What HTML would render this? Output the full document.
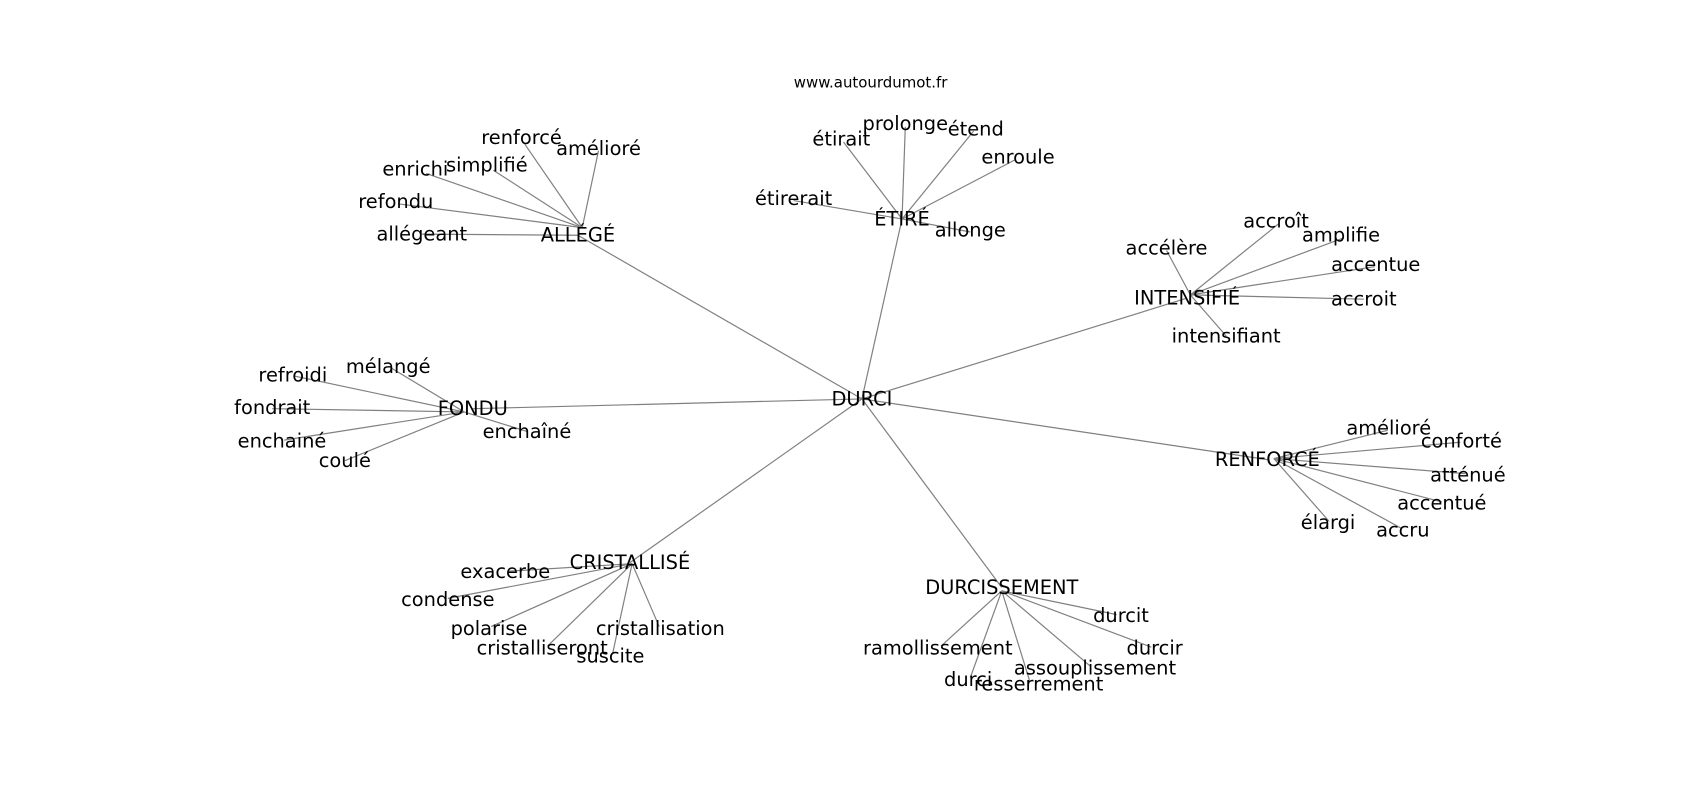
<!DOCTYPE html>
<html><head><meta charset="utf-8"><style>
html,body{margin:0;padding:0;background:#fff;width:1700px;height:800px;overflow:hidden}
svg{display:block}
text{font-family:"DejaVu Sans","Liberation Sans",sans-serif;font-size:17.9px;fill:#000;text-anchor:middle;dominant-baseline:central}
line{stroke:#808080;stroke-width:1.1}
</style></head><body>
<svg width="1700" height="800" viewBox="0 0 1568 738" xmlns="http://www.w3.org/2000/svg">
<g>
<line x1="795" y1="368" x2="533" y2="217"/>
<line x1="795" y1="368" x2="832" y2="202"/>
<line x1="795" y1="368" x2="1095" y2="275"/>
<line x1="795" y1="368" x2="436" y2="377"/>
<line x1="795" y1="368" x2="1169" y2="424"/>
<line x1="795" y1="368" x2="581" y2="519"/>
<line x1="795" y1="368" x2="924" y2="542"/>

<line x1="537" y1="210" x2="484" y2="133"/>
<line x1="537" y1="210" x2="552" y2="139"/>
<line x1="537" y1="210" x2="455" y2="157"/>
<line x1="537" y1="210" x2="393" y2="160"/>
<line x1="537" y1="210" x2="367" y2="188"/>
<line x1="533" y1="217" x2="389" y2="216"/>

<line x1="832" y1="202" x2="778" y2="131"/>
<line x1="832" y1="202" x2="835" y2="117"/>
<line x1="832" y1="202" x2="898" y2="121"/>
<line x1="832" y1="202" x2="937" y2="147"/>
<line x1="832" y1="202" x2="732" y2="185"/>
<line x1="832" y1="202" x2="895" y2="214"/>

<line x1="1098" y1="272" x2="1180" y2="206"/>
<line x1="1098" y1="272" x2="1238" y2="220"/>
<line x1="1098" y1="272" x2="1076" y2="231"/>
<line x1="1098" y1="272" x2="1268" y2="246"/>
<line x1="1098" y1="272" x2="1258" y2="276"/>
<line x1="1098" y1="272" x2="1131" y2="310"/>

<line x1="428" y1="380" x2="360" y2="339"/>
<line x1="428" y1="380" x2="272" y2="347"/>
<line x1="428" y1="380" x2="251" y2="377"/>
<line x1="428" y1="380" x2="262" y2="406"/>
<line x1="428" y1="380" x2="318" y2="425"/>
<line x1="428" y1="380" x2="486" y2="398"/>

<line x1="1175" y1="423" x2="1280" y2="397"/>
<line x1="1175" y1="423" x2="1347" y2="408"/>
<line x1="1175" y1="423" x2="1352" y2="437"/>
<line x1="1175" y1="423" x2="1330" y2="463"/>
<line x1="1175" y1="423" x2="1226" y2="481"/>
<line x1="1175" y1="423" x2="1292" y2="487"/>

<line x1="583" y1="520" x2="468" y2="527"/>
<line x1="583" y1="520" x2="413" y2="552"/>
<line x1="583" y1="520" x2="453" y2="578"/>
<line x1="583" y1="520" x2="505" y2="596"/>
<line x1="583" y1="520" x2="565" y2="603"/>
<line x1="583" y1="520" x2="608" y2="578"/>

<line x1="924" y1="545" x2="1030" y2="567"/>
<line x1="924" y1="545" x2="1062" y2="597"/>
<line x1="924" y1="545" x2="868" y2="596"/>
<line x1="924" y1="545" x2="1005" y2="614"/>
<line x1="924" y1="545" x2="895" y2="625"/>
<line x1="924" y1="545" x2="950" y2="629"/>
</g>
<text x="803" y="76" style="font-size:13.8px">www.autourdumot.fr</text>
<text x="795" y="368">DURCI</text>
<text x="533" y="217">ALLÉGÉ</text>
<text x="832" y="202">ÉTIRÉ</text>
<text x="1095" y="275">INTENSIFIÉ</text>
<text x="436" y="377">FONDU</text>
<text x="1169" y="424">RENFORCÉ</text>
<text x="581" y="519">CRISTALLISÉ</text>
<text x="924" y="542">DURCISSEMENT</text>

<text x="481" y="127">renforcé</text>
<text x="552" y="137">amélioré</text>
<text x="449" y="152">simplifié</text>
<text x="383" y="156">enrichi</text>
<text x="365" y="186">refondu</text>
<text x="389" y="216">allégeant</text>

<text x="776" y="128">étirait</text>
<text x="835" y="114">prolonge</text>
<text x="900" y="119">étend</text>
<text x="939" y="145">enroule</text>
<text x="732" y="183">étirerait</text>
<text x="895" y="212">allonge</text>

<text x="1177" y="204">accroît</text>
<text x="1237" y="217">amplifie</text>
<text x="1076" y="229">accélère</text>
<text x="1269" y="244">accentue</text>
<text x="1258" y="276">accroit</text>
<text x="1131" y="310">intensifiant</text>

<text x="358" y="338">mélangé</text>
<text x="270" y="346">refroidi</text>
<text x="251" y="376">fondrait</text>
<text x="260" y="407">enchainé</text>
<text x="318" y="425">coulé</text>
<text x="486" y="398">enchaîné</text>

<text x="1281" y="395">amélioré</text>
<text x="1348" y="407">conforté</text>
<text x="1354" y="438">atténué</text>
<text x="1330" y="464">accentué</text>
<text x="1225" y="482">élargi</text>
<text x="1294" y="489">accru</text>

<text x="466" y="527">exacerbe</text>
<text x="413" y="553">condense</text>
<text x="451" y="580">polarise</text>
<text x="500" y="598">cristalliseront</text>
<text x="563" y="605">suscite</text>
<text x="609" y="580">cristallisation</text>

<text x="1034" y="568">durcit</text>
<text x="1065" y="598">durcir</text>
<text x="865" y="598">ramollissement</text>
<text x="1010" y="616">assouplissement</text>
<text x="893" y="627">durci</text>
<text x="958" y="631">resserrement</text>
</svg>
</body></html>
